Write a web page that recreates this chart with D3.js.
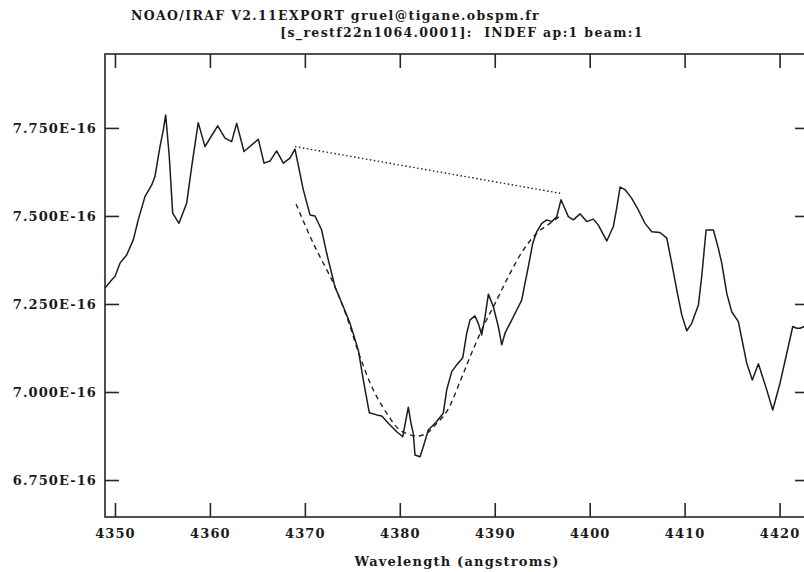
<!DOCTYPE html>
<html>
<head>
<meta charset="utf-8">
<script src="https://cdn.jsdelivr.net/npm/d3@7"></script>
<style>
  html, body { margin: 0; padding: 0; background: #fff; }
  svg { display: block; }
  text { font-family: "DejaVu Serif", "Liberation Serif", serif; font-weight: bold; fill: #1a1a1a; }
</style>
</head>
<body>
<div id="chart"></div>
<script>
// ---- data (flux in units of 1E-16) ----
const titleLine1 = "NOAO/IRAF V2.11EXPORT gruel@tigane.obspm.fr";
const titleLine2 = "[s_restf22n1064.0001]:  INDEF ap:1 beam:1";
const xAxisLabel = "Wavelength (angstroms)";

const xTicks = [4350, 4360, 4370, 4380, 4390, 4400, 4410, 4420];
const xTickLabels = ["4350", "4360", "4370", "4380", "4390", "4400", "4410", "4420"];
const yTicks = [6.75, 7.0, 7.25, 7.5, 7.75];
const yTickLabels = ["6.750E-16", "7.000E-16", "7.250E-16", "7.500E-16", "7.750E-16"];

const specWave = [
  4348.95, 4349.65, 4350.00, 4350.53, 4351.23, 4351.93, 4352.45, 4353.16, 4353.87, 4354.21,
  4354.74, 4355.09, 4355.34, 4355.72, 4356.08, 4356.74, 4357.55, 4358.08, 4358.77, 4359.48,
  4360.11, 4360.82, 4361.59, 4362.29, 4362.82, 4363.59, 4365.10, 4365.70, 4366.33, 4367.03,
  4367.73, 4368.43, 4368.96, 4369.84, 4370.54, 4371.07, 4371.77, 4372.30, 4373.17, 4374.05,
  4374.76, 4375.63, 4376.16, 4376.79, 4377.57, 4378.10, 4378.79, 4379.68, 4380.31, 4380.90,
  4381.18, 4381.42, 4381.60, 4382.13, 4382.48, 4383.00, 4383.89, 4384.58, 4384.94, 4385.47,
  4385.99, 4386.63, 4387.05, 4387.40, 4387.92, 4388.27, 4388.63, 4388.98, 4389.33, 4389.85,
  4390.38, 4390.74, 4391.08, 4391.61, 4392.32, 4392.84, 4393.19, 4393.54, 4394.00, 4394.42,
  4394.95, 4395.48, 4396.00, 4396.53, 4396.98, 4397.30, 4397.75, 4398.28, 4398.98, 4399.69,
  4400.39, 4400.91, 4401.80, 4402.49, 4402.85, 4403.20, 4403.72, 4404.43, 4405.12, 4405.83,
  4406.54, 4407.41, 4408.12, 4408.64, 4409.17, 4409.70, 4410.22, 4410.75, 4411.45, 4411.80,
  4412.26, 4413.03, 4413.55, 4413.91, 4414.44, 4414.96, 4415.66, 4416.54, 4417.13, 4417.77,
  4418.65, 4419.28, 4420.05, 4420.76, 4421.39, 4421.81, 4422.16, 4422.59, 4423.20
];
const specFlux = [
  7.295, 7.318, 7.328, 7.366, 7.389, 7.432, 7.489, 7.555, 7.588, 7.612,
  7.697, 7.744, 7.787, 7.669, 7.508, 7.479, 7.536, 7.640, 7.765, 7.697,
  7.725, 7.756, 7.721, 7.711, 7.763, 7.683, 7.718, 7.650, 7.656, 7.685,
  7.650, 7.664, 7.690, 7.574, 7.503, 7.500, 7.460, 7.394, 7.299, 7.242,
  7.195, 7.119, 7.034, 6.941, 6.935, 6.932, 6.911, 6.887, 6.873, 6.957,
  6.911, 6.883, 6.821, 6.816, 6.845, 6.892, 6.916, 6.940, 7.006, 7.058,
  7.077, 7.097, 7.167, 7.205, 7.216, 7.195, 7.162, 7.214, 7.278, 7.242,
  7.186, 7.134, 7.167, 7.195, 7.233, 7.261, 7.309, 7.356, 7.422, 7.455,
  7.479, 7.489, 7.484, 7.498, 7.546, 7.526, 7.498, 7.489, 7.506, 7.484,
  7.491, 7.474, 7.429, 7.470, 7.523, 7.582, 7.575, 7.550, 7.517, 7.479,
  7.455, 7.453, 7.437, 7.366, 7.290, 7.219, 7.174, 7.195, 7.247, 7.328,
  7.460, 7.460, 7.408, 7.366, 7.280, 7.228, 7.200, 7.082, 7.034, 7.080,
  7.006, 6.949, 7.025, 7.110, 7.186, 7.181, 7.181, 7.186, 7.185
];

// fitted profile (dashed)
const fitWave = [
  4369.07, 4370.89, 4373.00, 4374.41, 4375.81, 4377.21, 4378.62, 4380.02, 4381.78, 4382.84,
  4383.89, 4384.94, 4386.34, 4387.40, 4388.80, 4390.21, 4391.61, 4393.01, 4394.42, 4395.82, 4396.88
];
const fitFlux = [
  7.534, 7.422, 7.309, 7.214, 7.100, 7.006, 6.940, 6.892, 6.875, 6.883,
  6.911, 6.944, 7.029, 7.100, 7.186, 7.261, 7.337, 7.403, 7.451, 7.479, 7.500
];

// continuum (dotted)
const contWave = [4368.96, 4396.88];
const contFlux = [7.697, 7.5645];

// ---- drawing ----
const W = 804, H = 572;
const frame = { left: 105, right: 809, top: 54, bottom: 517 };

const svg = d3.select("#chart").append("svg")
  .attr("width", W).attr("height", H)
  .style("overflow", "hidden");

const x = d3.scaleLinear().domain([4348.95, 4423.1]).range([frame.left, frame.right]);
const y = d3.scaleLinear().domain([6.645, 7.960]).range([frame.bottom, frame.top]);

const ink = "#2a2230";

// frame
svg.append("rect")
  .attr("x", frame.left).attr("y", frame.top)
  .attr("width", frame.right - frame.left).attr("height", frame.bottom - frame.top)
  .attr("fill", "none").attr("stroke", ink).attr("stroke-width", 1.6);

function styleAxis(g) {
  g.select(".domain").remove();
  g.selectAll(".tick line").attr("stroke", ink).attr("stroke-width", 1.6);
  g.selectAll(".tick text").style("font-size", "13px").style("letter-spacing", "1.1px").attr("fill", "#1a1a1a");
}

// bottom axis
svg.append("g").attr("transform", `translate(0,${frame.bottom})`)
  .call(d3.axisBottom(x).tickValues(xTicks).tickFormat((d, i) => xTickLabels[i]).tickSize(-14).tickPadding(12))
  .call(styleAxis);
// top axis (ticks only)
svg.append("g").attr("transform", `translate(0,${frame.top})`)
  .call(d3.axisTop(x).tickValues(xTicks).tickFormat("").tickSize(-14))
  .call(styleAxis);
// left axis
svg.append("g").attr("transform", `translate(${frame.left},0)`)
  .call(d3.axisLeft(y).tickValues(yTicks).tickFormat((d, i) => yTickLabels[i]).tickSize(-14).tickPadding(8))
  .call(styleAxis);
// right axis (ticks only)
svg.append("g").attr("transform", `translate(${frame.right},0)`)
  .call(d3.axisRight(y).tickValues(yTicks).tickFormat("").tickSize(-14))
  .call(styleAxis);

svg.append("clipPath").attr("id", "plotclip")
  .append("rect").attr("x", frame.left).attr("y", frame.top)
  .attr("width", frame.right - frame.left).attr("height", frame.bottom - frame.top);

const line = d3.line().x(d => x(d[0])).y(d => y(d[1]));
const plot = svg.append("g").attr("clip-path", "url(#plotclip)");

plot.append("path")
  .datum(contWave.map((w, i) => [w, contFlux[i]]))
  .attr("d", line).attr("fill", "none").attr("stroke", "#222")
  .attr("stroke-width", 1.4).attr("stroke-dasharray", "1.5,2.5");

plot.append("path")
  .datum(fitWave.map((w, i) => [w, fitFlux[i]]))
  .attr("d", d3.line().curve(d3.curveCatmullRom).x(d => x(d[0])).y(d => y(d[1])))
  .attr("fill", "none").attr("stroke", "#222")
  .attr("stroke-width", 1.4).attr("stroke-dasharray", "5,4");

plot.append("path")
  .datum(specWave.map((w, i) => [w, specFlux[i]]))
  .attr("d", line).attr("fill", "none").attr("stroke", "#1e1a22")
  .attr("stroke-width", 1.5).attr("stroke-linejoin", "round");

// titles
svg.append("text").attr("x", 131).attr("y", 20)
  .style("font-size", "12.5px").style("letter-spacing", "1.35px").text(titleLine1);
svg.append("text").attr("x", 462).attr("y", 37).attr("text-anchor", "middle")
  .style("font-size", "12.5px").style("letter-spacing", "1.35px").style("white-space", "pre")
  .attr("xml:space", "preserve").text(titleLine2);

// x label
svg.append("text").attr("x", (frame.left + frame.right) / 2).attr("y", 566).attr("text-anchor", "middle")
  .style("font-size", "13px").style("letter-spacing", "1.2px").text(xAxisLabel);
</script>
</body>
</html>
